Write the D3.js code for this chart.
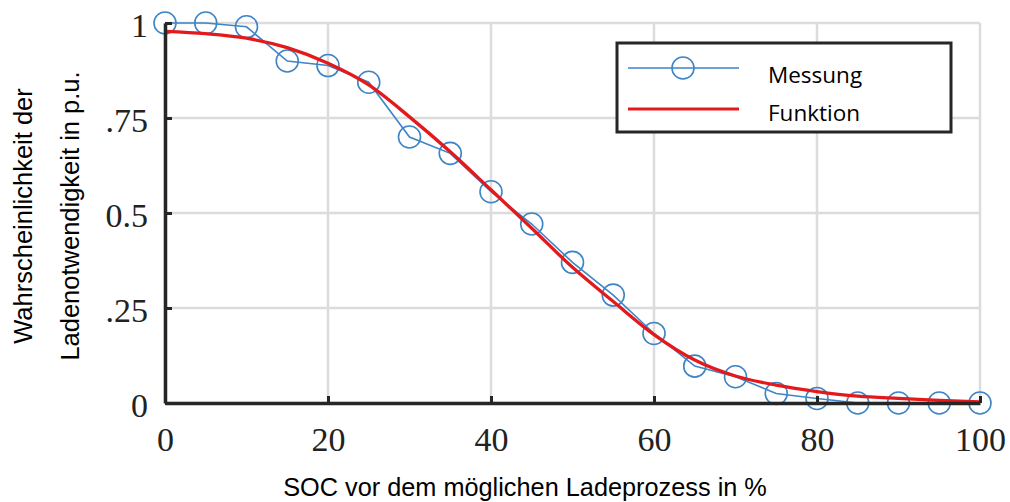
<!DOCTYPE html>
<html><head><meta charset="utf-8">
<script src="https://cdn.jsdelivr.net/npm/d3@7"></script>
<style>body{margin:0;background:#fff}svg{display:block}</style>
</head><body>
<svg id="c" width="1010" height="502"></svg>
<script>
// Data
const socMeasured = [0,5,10,15,20,25,30,35,40,45,50,55,60,65,70,75,80,85,90,95,100];
const probMeasured = [1.0,1.0,0.99,0.90,0.888,0.844,0.70,0.657,0.556,0.471,0.370,0.284,0.183,0.097,0.069,0.025,0.012,0.0,0.0,0.0,0.0];
const socFunction = [0,5,10,15,20,25,30,35,40,45,50,55,60,65,70,75,80,85,90,95,100];
const probFunction = [0.978,0.972,0.960,0.935,0.894,0.837,0.753,0.661,0.561,0.460,0.357,0.267,0.180,0.113,0.071,0.047,0.030,0.018,0.012,0.007,0.003];
const xTicks = [0,20,40,60,80,100];
const yTicks = [0,0.25,0.5,0.75,1];
const yTickLabels = ["0",".25","0.5",".75","1"];
const legendLabels = ["Messung","Funktion"];
const xTitle = "SOC vor dem möglichen Ladeprozess in %";
const yTitleLines = ["Wahrscheinlichkeit der","Ladenotwendigkeit in p.u."];

const svg = d3.select("#c");
const x = d3.scaleLinear().domain([0,100]).range([165,980]);
const y = d3.scaleLinear().domain([0,1]).range([403,23]);
const blue = "#3d85c6", red = "#e3191c", axisCol = "#262626";

// grid
const g = svg.append("g");
g.selectAll(".gx").data(xTicks).join("line")
  .attr("x1",d=>x(d)).attr("x2",d=>x(d)).attr("y1",y(0)).attr("y2",y(1))
  .attr("stroke","#dcdcdc").attr("stroke-width",2.5);
g.selectAll(".gy").data(yTicks).join("line")
  .attr("y1",d=>y(d)).attr("y2",d=>y(d)).attr("x1",x(0)).attr("x2",x(100))
  .attr("stroke","#dcdcdc").attr("stroke-width",2.5);

// measured
const meas = socMeasured.map((s,i)=>[s,probMeasured[i]]);
svg.append("path").datum(meas)
  .attr("d", d3.line().x(d=>x(d[0])).y(d=>y(d[1])))
  .attr("fill","none").attr("stroke",blue).attr("stroke-width",1.6);
svg.selectAll(".pt").data(meas).join("circle")
  .attr("cx",d=>x(d[0])).attr("cy",d=>y(d[1])).attr("r",11)
  .attr("fill","none").attr("stroke",blue).attr("stroke-width",1.6);

// function
const fn = socFunction.map((s,i)=>[s,probFunction[i]]);
svg.append("path").datum(fn)
  .attr("d", d3.line().curve(d3.curveMonotoneX).x(d=>x(d[0])).y(d=>y(d[1])))
  .attr("fill","none").attr("stroke",red).attr("stroke-width",3.3);

// axes
const xAxis = d3.axisBottom(x).tickValues(xTicks).tickSize(-7).tickPadding(24).tickSizeOuter(0);
const gx = svg.append("g").attr("transform",`translate(0,${y(0)})`).call(xAxis);
gx.select(".domain").attr("stroke",axisCol).attr("stroke-width",3.5);
gx.selectAll(".tick line").attr("stroke",axisCol).attr("stroke-width",3);
gx.selectAll(".tick text").attr("font-family","'Liberation Serif','Times New Roman',serif")
  .attr("font-size",34).attr("fill","#222");

const yAxis = d3.axisLeft(y).tickValues(yTicks).tickFormat((d,i)=>yTickLabels[i]).tickSize(-7).tickPadding(17).tickSizeOuter(0);
const gy = svg.append("g").attr("transform",`translate(${x(0)},0)`).call(yAxis);
gy.select(".domain").attr("stroke",axisCol).attr("stroke-width",3.5);
gy.selectAll(".tick line").attr("stroke",axisCol).attr("stroke-width",3);
gy.selectAll(".tick text").attr("font-family","'Liberation Serif','Times New Roman',serif")
  .attr("font-size",34).attr("fill","#222").attr("dy","0.4em");

// titles
svg.append("text").attr("x",525).attr("y",496).attr("text-anchor","middle")
  .attr("font-family","'Liberation Sans',Arial,sans-serif").attr("font-size",25.3).attr("fill","#000")
  .text(xTitle);
yTitleLines.forEach((t,i)=>{
  svg.append("text").attr("transform",`translate(${32+i*47},${216}) rotate(-90)`)
    .attr("text-anchor","middle")
    .attr("font-family","'Liberation Sans',Arial,sans-serif").attr("font-size",25.5).attr("fill","#000")
    .text(t);
});

// legend
const lg = svg.append("g");
lg.append("rect").attr("x",617).attr("y",43).attr("width",334).attr("height",89)
  .attr("fill","#fff").attr("stroke",axisCol).attr("stroke-width",3);
lg.append("line").attr("x1",628).attr("x2",739).attr("y1",68).attr("y2",68).attr("stroke",blue).attr("stroke-width",1.6);
lg.append("circle").attr("cx",683).attr("cy",68).attr("r",11).attr("fill","none").attr("stroke",blue).attr("stroke-width",1.6);
lg.append("line").attr("x1",628).attr("x2",739).attr("y1",109).attr("y2",109).attr("stroke",red).attr("stroke-width",3);
legendLabels.forEach((t,i)=>{
  lg.append("text").attr("x",768).attr("y",[83,121][i])
    .attr("font-family","'Open Sans','Noto Sans',sans-serif").attr("font-size",22.5).attr("fill","#000").text(t);
});
</script>
</body></html>
